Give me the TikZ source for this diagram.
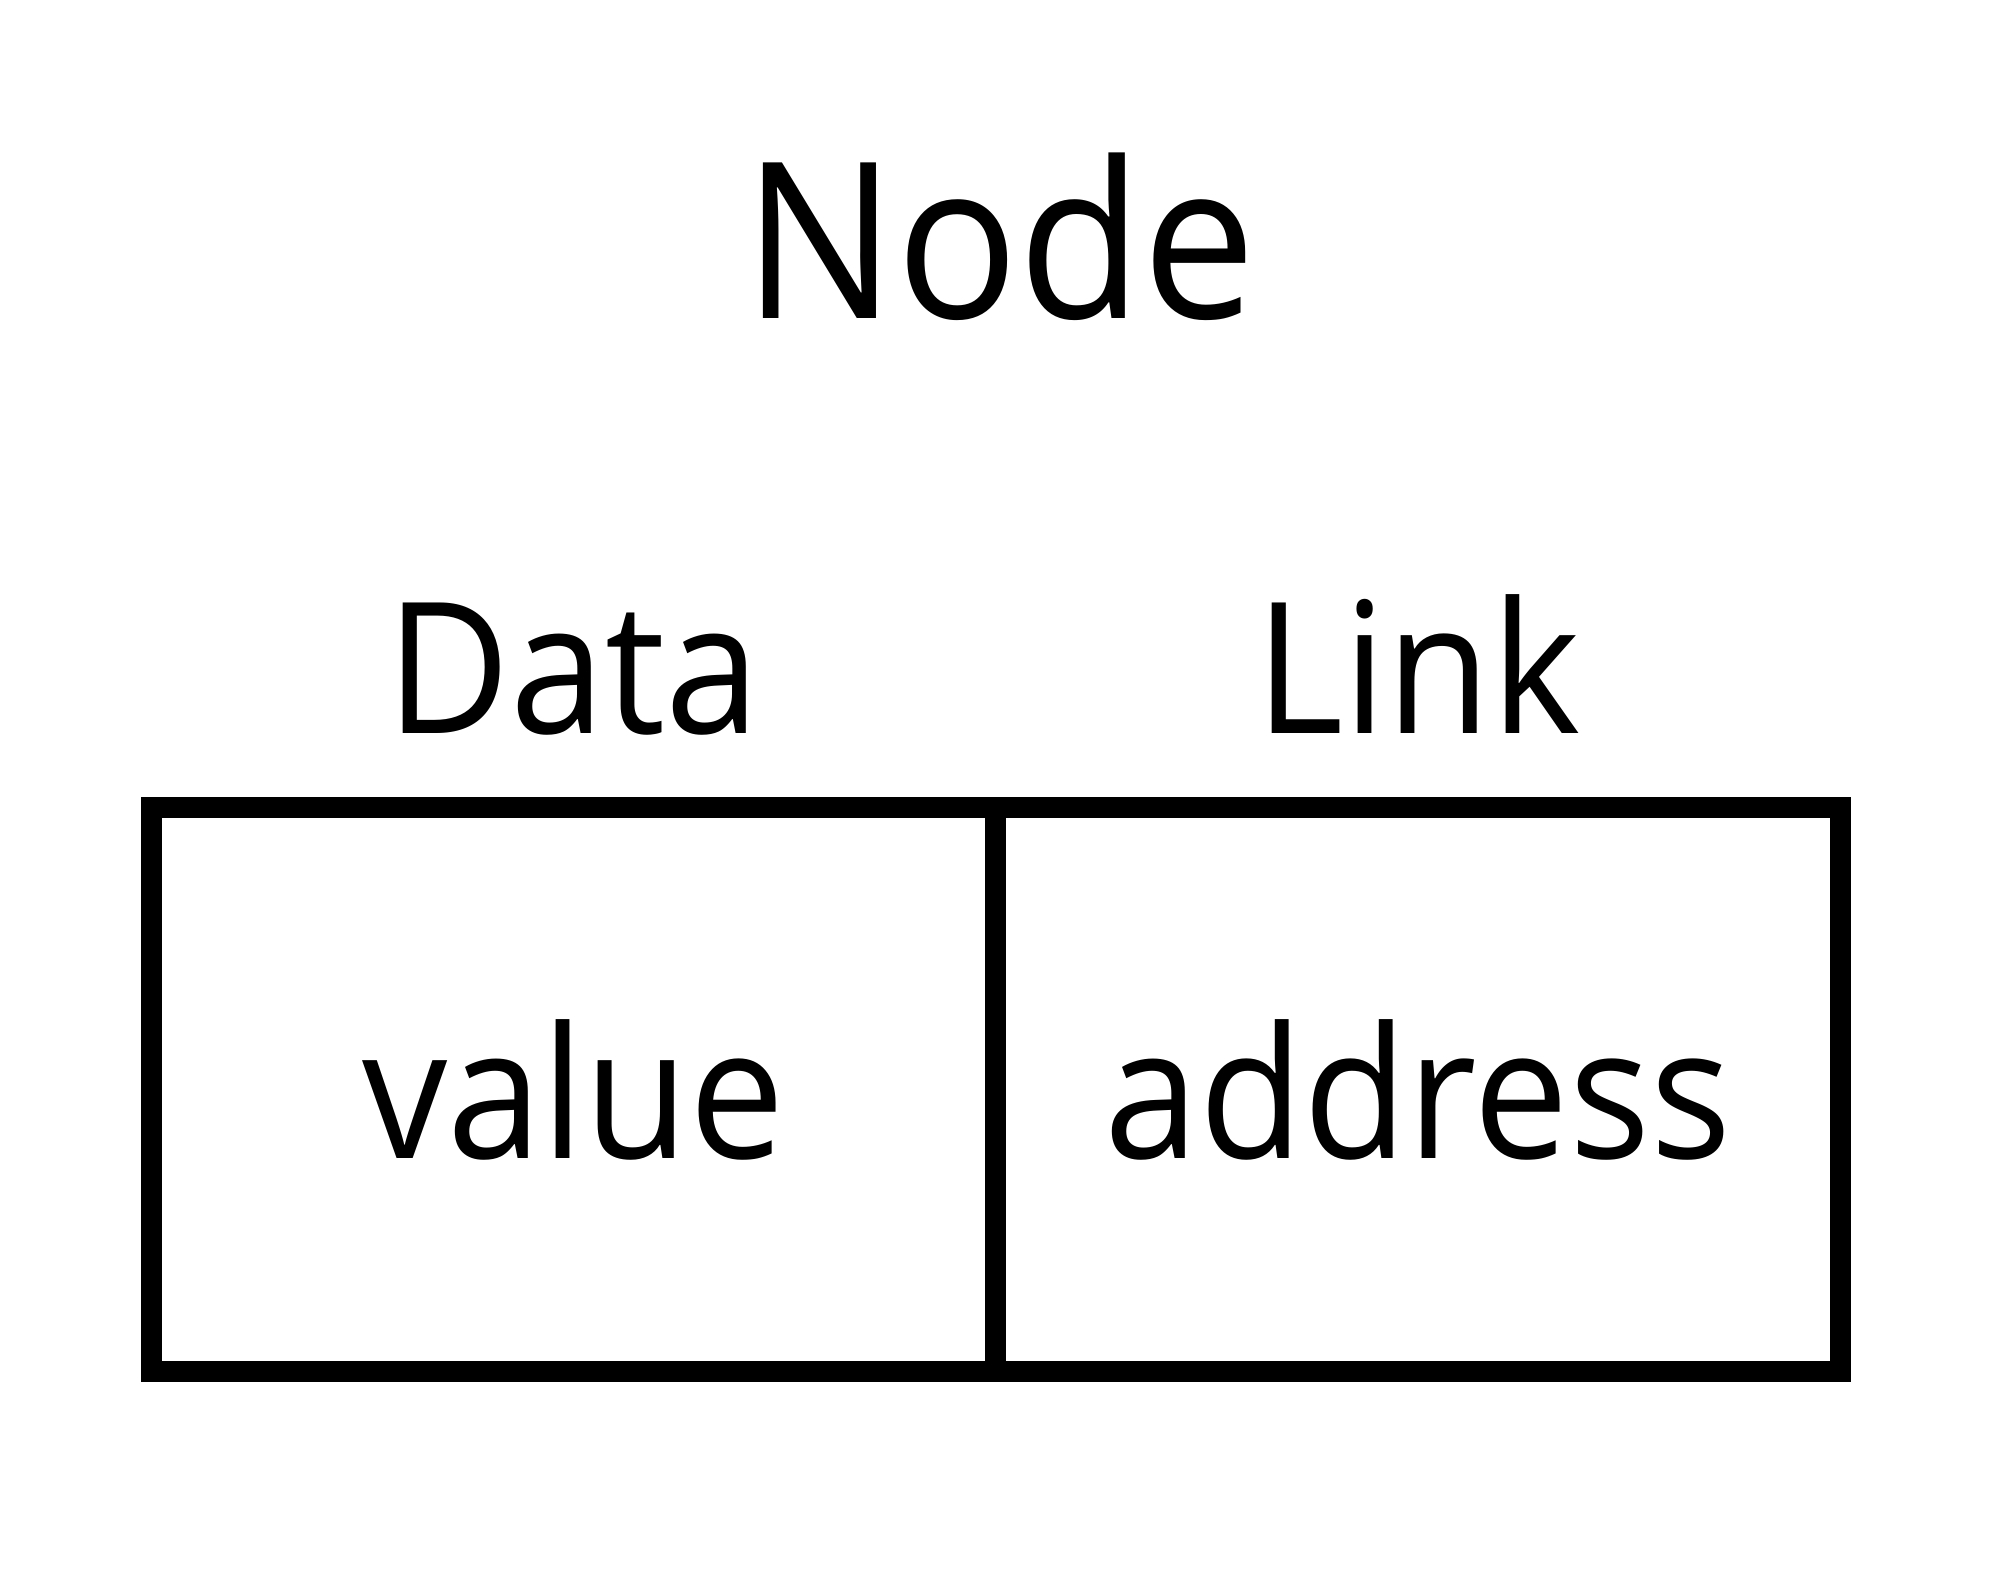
\documentclass[tikz,border=0pt]{standalone}
\usepackage{fontspec}
\setmainfont{Open Sans}[FakeStretch=0.93]
\usetikzlibrary{positioning}
\begin{document}
\begin{tikzpicture}[x=0.01cm,y=-0.01cm,
        cell/.style={draw, line width=0.21cm, outer sep=0pt, inner sep=0pt,
            minimum width=8.44cm, minimum height=5.63cm, font=\fontsize{52}{60}\selectfont},
        lbl/.style={inner sep=0pt, anchor=base, font=\fontsize{52}{60}\selectfont}]
                \useasboundingbox (0,0) rectangle (2000,1581);
                \node[cell] (value) at (573.5,1089.5) {value};
                \node[cell, right=0pt of value] (address) {address};
                \node[lbl] (data) at ([yshift=0.74cm]value.north) {Data};
                \node[lbl] (link) at ([yshift=0.74cm]address.north) {Link};
                \node[lbl, font=\fontsize{62}{70}\selectfont] (title) at (1000,318) {Node};
            \end{tikzpicture}
\end{document}
